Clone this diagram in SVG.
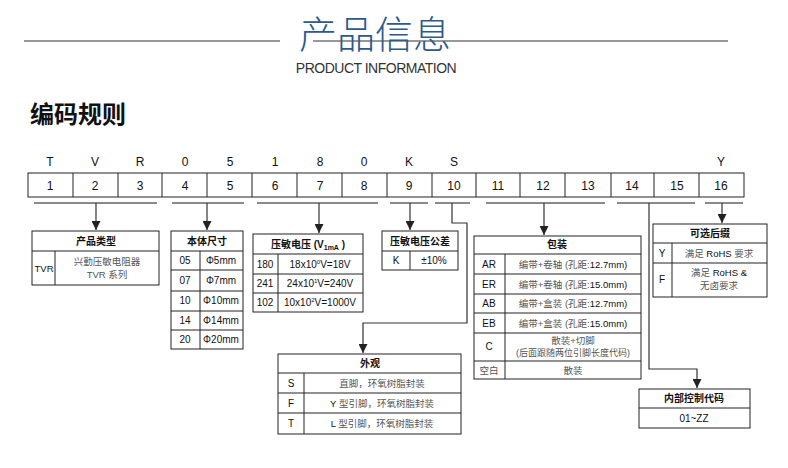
<svg xmlns="http://www.w3.org/2000/svg" width="788" height="468" viewBox="0 0 788 468">
<style>
text{font-family:"Liberation Sans","Noto Sans CJK SC",sans-serif;fill:#111;text-anchor:middle}
.cell{fill:#fff;stroke:#222;stroke-width:1}
.ln{stroke:#222;stroke-width:1;fill:none}
.br{stroke:#8a8a8a;stroke-width:2}
.con{stroke:#333;stroke-width:1.2;fill:none}
.t{font-size:10px}
.h{font-size:10px;font-weight:bold}
.g{font-size:9.5px;fill:#555}
.code{font-size:12px}
</style>
<defs><marker id="a" markerWidth="8" markerHeight="8" refX="4" refY="7" orient="auto" markerUnits="userSpaceOnUse"><path d="M0,0 L8,0 L4,8 Z" fill="#222" transform="rotate(-90 4 4)"/></marker>
<marker id="ar" viewBox="0 0 10 10" markerWidth="9" markerHeight="9" refX="10" refY="5" orient="auto" markerUnits="userSpaceOnUse"><path d="M0,0 L10,5 L0,10 Z" fill="#222"/></marker></defs>
<rect width="788" height="468" fill="#fff"/>
<g id="header">
<line x1="24" y1="41" x2="280" y2="41" stroke="#333" stroke-width="1.2"/>
<line x1="313" y1="41" x2="728" y2="41" stroke="#333" stroke-width="1.2"/>
<text x="375" y="48" style="font-size:38px;fill:#2d5a8a;font-family:'Noto Sans CJK SC',sans-serif;font-weight:300">产品信息</text>
<text x="376" y="73" style="font-size:14px;fill:#333;letter-spacing:-0.5px">PRODUCT INFORMATION</text>
<text x="30" y="123" style="font-size:24px;font-weight:bold;text-anchor:start;font-family:'Noto Sans CJK SC',sans-serif">编码规则</text>
</g>
<g id="codebar">
<rect class="cell" x="28" y="173" width="716" height="24"/>
<path class="ln" d="M73,173V197M118,173V197M162,173V197M207,173V197M252,173V197M297,173V197M342,173V197M387,173V197M432,173V197M476,173V197M520,173V197M565,173V197M611,173V197M654,173V197M699,173V197"/>
<g class="code">
<text x="50" y="190">1</text><text x="95" y="190">2</text><text x="140" y="190">3</text><text x="185" y="190">4</text><text x="230" y="190">5</text><text x="275" y="190">6</text><text x="320" y="190">7</text><text x="364" y="190">8</text><text x="409" y="190">9</text><text x="454" y="190">10</text><text x="498" y="190">11</text><text x="543" y="190">12</text><text x="588" y="190">13</text><text x="632" y="190">14</text><text x="677" y="190">15</text><text x="721" y="190">16</text>
<text x="50" y="166">T</text><text x="95" y="166">V</text><text x="140" y="166">R</text><text x="185" y="166">0</text><text x="230" y="166">5</text><text x="275" y="166">1</text><text x="320" y="166">8</text><text x="364" y="166">0</text><text x="409" y="166">K</text><text x="454" y="166">S</text><text x="721" y="166">Y</text>
</g>
</g>
<g id="connectors">
<path class="br" d="M34,203H157M172,203H244M257,203H378M390,203H428M435,203H470M486,203H605M617,203H695M705,203H743"/>
<path class="con" d="M96,203V230" marker-end="url(#ar)"/>
<path class="con" d="M207,203V230" marker-end="url(#ar)"/>
<path class="con" d="M319,203V233" marker-end="url(#ar)"/>
<path class="con" d="M410,203V230" marker-end="url(#ar)"/>
<path class="con" d="M452,203V223H467V323H363V353" marker-end="url(#ar)"/>
<path class="con" d="M544,203V235" marker-end="url(#ar)"/>
<path class="con" d="M649,203V369H697V388" marker-end="url(#ar)"/>
<path class="con" d="M722,203V223" marker-end="url(#ar)"/>
</g>
<g id="type">
<rect class="cell" x="32" y="231" width="127" height="54"/>
<path class="ln" d="M32,251H159M55,251V285"/>
<text class="h" x="96" y="245">产品类型</text>
<text class="t" x="44" y="272" style="font-size:9.5px">TVR</text>
<text class="g" x="107" y="265">兴勤压敏电阻器</text>
<text class="g" x="107" y="278">TVR 系列</text>
</g>
<g id="size">
<rect class="cell" x="171" y="231" width="72" height="118"/>
<path class="ln" d="M171,251H243M171,270H243M171,291H243M171,311H243M171,330H243M200,251V349"/>
<text class="h" x="207" y="245">本体尺寸</text>
<g class="t"><text x="185" y="264">05</text><text x="221" y="264">Φ5mm</text>
<text x="185" y="284">07</text><text x="221" y="284">Φ7mm</text>
<text x="185" y="304">10</text><text x="221" y="304">Φ10mm</text>
<text x="185" y="324">14</text><text x="221" y="324">Φ14mm</text>
<text x="185" y="343">20</text><text x="221" y="343">Φ20mm</text></g>
</g>
<g id="voltage">
<rect class="cell" x="253" y="234" width="110" height="78"/>
<path class="ln" d="M253,254H363M253,274H363M253,293H363M278,254V312"/>
<text class="h" x="308" y="248">压敏电压 (V<tspan font-size="7" dy="2">1mA</tspan><tspan dy="-2"> )</tspan></text>
<g class="t"><text x="265" y="268">180</text><text x="320" y="268">18x10<tspan font-size="6" dy="-4">0</tspan><tspan dy="4">V=18V</tspan></text>
<text x="265" y="287">241</text><text x="320" y="287">24x10<tspan font-size="6" dy="-4">1</tspan><tspan dy="4">V=240V</tspan></text>
<text x="265" y="306">102</text><text x="320" y="306">10x10<tspan font-size="6" dy="-4">2</tspan><tspan dy="4">V=1000V</tspan></text></g>
</g>
<g id="tolerance">
<rect class="cell" x="382" y="231" width="76" height="39"/>
<path class="ln" d="M382,251H458M410,251V270"/>
<text class="h" x="420" y="245">压敏电压公差</text>
<text class="t" x="396" y="264">K</text><text class="t" x="434" y="264">±10%</text>
</g>
<g id="appearance">
<rect class="cell" x="278" y="354" width="183" height="80"/>
<path class="ln" d="M278,373H461M278,393H461M278,413H461M304,373V434"/>
<text class="h" x="370" y="367">外观</text>
<text class="t" x="291" y="387">S</text><text class="g" x="382" y="387">直脚，环氧树脂封装</text>
<text class="t" x="291" y="407">F</text><text class="g" x="382" y="407"><tspan fill="#111">Y</tspan> 型引脚，环氧树脂封装</text>
<text class="t" x="291" y="427">T</text><text class="g" x="382" y="427"><tspan fill="#111">L</tspan> 型引脚，环氧树脂封装</text>
</g>
<g id="package">
<rect class="cell" x="474" y="236" width="167" height="143"/>
<path class="ln" d="M474,254H641M474,274H641M474,294H641M474,313H641M474,333H641M474,361H641M505,254V379"/>
<text class="h" x="557" y="248">包装</text>
<g class="t"><text x="489" y="268">AR</text><text x="489" y="288">ER</text><text x="489" y="307">AB</text><text x="489" y="327">EB</text><text x="489" y="350">C</text></g>
<text class="g" x="573" y="268">编带+卷轴 (孔距:<tspan fill="#111">12.7mm)</tspan></text>
<text class="g" x="573" y="288">编带+卷轴 (孔距:<tspan fill="#111">15.0mm)</tspan></text>
<text class="g" x="573" y="307">编带+盒装 (孔距:<tspan fill="#111">12.7mm)</tspan></text>
<text class="g" x="573" y="327">编带+盒装 (孔距:<tspan fill="#111">15.0mm)</tspan></text>
<text class="g" x="573" y="344">散装+切脚</text>
<text class="g" x="573" y="356" style="font-size:9px">(后面跟随两位引脚长度代码)</text>
<text class="g" x="489" y="374">空白</text><text class="g" x="573" y="374">散装</text>
</g>
<g id="internal">
<rect class="cell" x="639" y="389" width="111" height="39"/>
<path class="ln" d="M639,408H750"/>
<text class="h" x="694" y="402">内部控制代码</text>
<text class="t" x="694" y="422">01~ZZ</text>
</g>
<g id="suffix">
<rect class="cell" x="653" y="224" width="114" height="73"/>
<path class="ln" d="M653,243H767M653,263H767M672,243V297"/>
<text class="h" x="710" y="237">可选后缀</text>
<text class="t" x="662" y="257">Y</text><text class="g" x="719" y="257">满足 <tspan fill="#111">RoHS</tspan> 要求</text>
<text class="t" x="662" y="283">F</text><text class="g" x="719" y="276">满足 <tspan fill="#111">RoHS &amp;</tspan></text>
<text class="g" x="719" y="289">无卤要求</text>
</g>
</svg>
